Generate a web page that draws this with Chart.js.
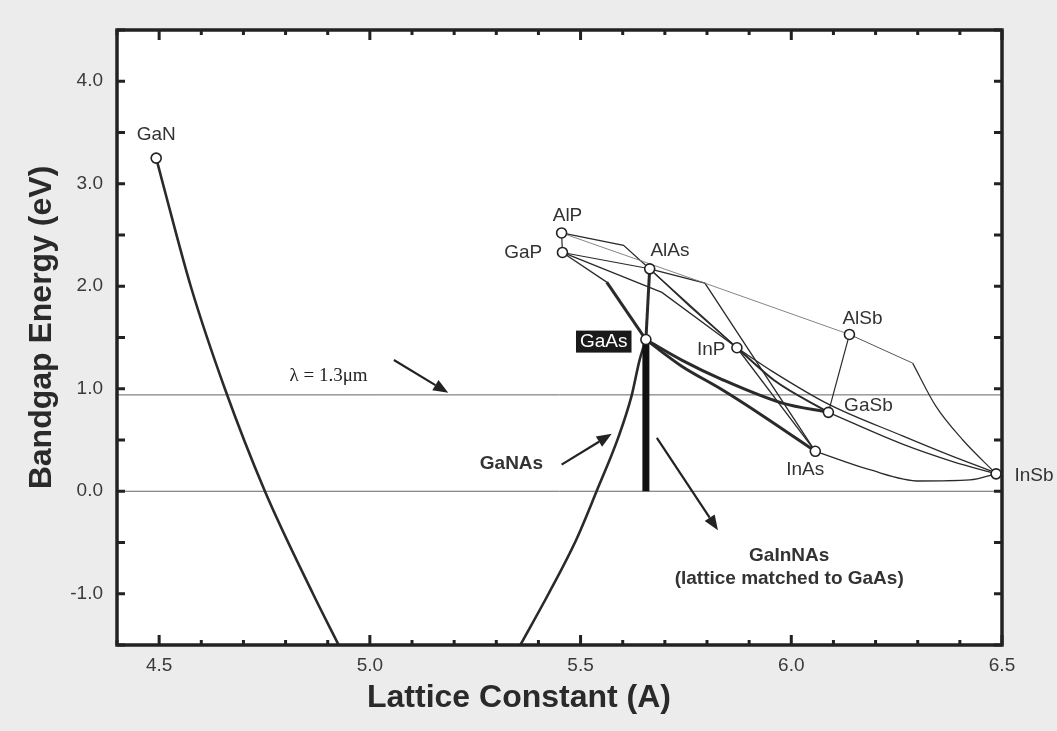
<!DOCTYPE html>
<html>
<head>
<meta charset="utf-8">
<title>Bandgap vs Lattice Constant</title>
<script src="https://cdn.jsdelivr.net/npm/chart.js@4.4.1/dist/chart.umd.min.js"></script>
<style>
  html, body { margin: 0; padding: 0; background: #ececec; }
  #wrap { width: 1057px; height: 731px; }
</style>
</head>
<body>
<div id="wrap"><canvas id="bandgapChart" width="1057" height="731"></canvas></div>
<script>
// ---- data (lattice constant in A, bandgap in eV) ----
const binaryNames = ["GaN", "AlP", "GaP", "AlAs", "GaAs", "InP", "AlSb", "GaSb", "InAs", "InSb"];
const binaryA     = [4.493, 5.455, 5.457, 5.664, 5.655, 5.871, 6.138, 6.088, 6.057, 6.486];
const binaryEg    = [3.25, 2.52, 2.33, 2.17, 1.48, 1.40, 1.53, 0.77, 0.39, 0.17];

// where each binary's name sits
const labelA  = [4.493, 5.469, 5.364, 5.712, 5.555, 5.810, 6.169, 6.183, 6.033, 6.576];
const labelEg = [3.48, 2.69, 2.33, 2.35, 1.46, 1.38, 1.68, 0.83, 0.21, 0.15];

// GaNAs bowing curve (two branches, runs off the bottom of the plot)
const ganasLeftA   = [4.493, 4.509, 4.575, 4.656, 4.751, 4.865, 4.926];
const ganasLeftEg  = [3.25, 3.0, 2.0, 1.0, 0.0, -1.0, -1.5];
const ganasRightA  = [5.357, 5.424, 5.490, 5.538, 5.590, 5.621, 5.640, 5.655];
const ganasRightEg = [-1.5, -1.0, -0.47, 0.0, 0.53, 0.93, 1.28, 1.48];

// ternary alloy lines (thin)
const alpGapA = [5.455, 5.457],        alpGapEg = [2.52, 2.33];
const alpAlsbA = [5.455, 5.795, 6.138], alpAlsbEg = [2.52, 2.03, 1.53];
const alpInpA = [5.455, 5.602, 5.871], alpInpEg = [2.52, 2.40, 1.40];
const gapInpA = [5.457, 5.693, 5.871], gapInpEg = [2.33, 1.94, 1.40];
const gapAlasA = [5.457, 5.664],       gapAlasEg = [2.33, 2.17];
const gapGaasThinA = [5.457, 5.562],   gapGaasThinEg = [2.33, 2.04];
const alasInasA = [5.664, 5.795, 6.057], alasInasEg = [2.17, 2.03, 0.39];
const alasInpA = [5.664, 5.760, 5.871], alasInpEg = [2.17, 1.80, 1.40];
const inpInasA = [5.871, 6.057],       inpInasEg = [1.40, 0.39];
const inpGasbA = [5.871, 5.960, 6.088], inpGasbEg = [1.40, 1.08, 0.77];
const inpInsbA = [5.871, 5.955, 6.088, 6.264, 6.383, 6.486], inpInsbEg = [1.40, 1.17, 0.85, 0.54, 0.34, 0.18];
const gasbInsbA = [6.088, 6.264, 6.383, 6.486], gasbInsbEg = [0.77, 0.46, 0.29, 0.17];
const inasInsbA = [6.057, 6.186, 6.305, 6.424, 6.486], inasInsbEg = [0.39, 0.21, 0.10, 0.11, 0.17];
const alsbGasbA = [6.138, 6.088],      alsbGasbEg = [1.53, 0.77];
const alsbKinkA = [6.138, 6.288],      alsbKinkEg = [1.53, 1.25];
const kinkInsbA = [6.288, 6.343, 6.407, 6.486], kinkInsbEg = [1.25, 0.83, 0.50, 0.17];

// thick lines through GaAs
const gapGaasThickA = [5.562, 5.655],  gapGaasThickEg = [2.04, 1.48];
const alasGaasA = [5.664, 5.655],      alasGaasEg = [2.17, 1.48];
const gaasGasbA = [5.655, 5.740, 5.836, 5.979, 6.088], gaasGasbEg = [1.48, 1.28, 1.09, 0.86, 0.77];
const gaasInasA = [5.655, 5.693, 5.740, 5.836, 5.931, 6.057], gaasInasEg = [1.48, 1.36, 1.22, 0.99, 0.74, 0.39];

// GaInNAs lattice matched to GaAs
const gainnasA = [5.655, 5.655], gainnasEg = [0.0, 1.48];

// reference lines
const fullRangeA = [4.4, 6.5];
const lambdaEg = [0.94, 0.94];
const zeroEg = [0, 0];

// annotations
const arrowFromA = [5.057, 5.455, 5.681], arrowFromEg = [1.28, 0.26, 0.52];
const arrowToA   = [5.186, 5.574, 5.826], arrowToEg   = [0.96, 0.56, -0.38];

const pts = (xs, ys) => xs.map((x, i) => ({ x: x, y: ys[i] }));
const isHalf = v => Math.abs(v * 2 - Math.round(v * 2)) < 1e-6;
const isInt = v => Math.abs(v - Math.round(v)) < 1e-6;
const SANS = "'Liberation Sans', Arial, Helvetica, sans-serif";

function line(xs, ys, width, color, smooth) {
  return {
    data: pts(xs, ys), showLine: true, borderColor: color || "#2a2a2a",
    borderWidth: width, pointRadius: 0, pointHoverRadius: 0,
    cubicInterpolationMode: smooth ? "monotone" : "default",
    tension: 0, fill: false
  };
}

// white plot area on grey paper
const paperPlugin = {
  id: "paper",
  beforeDraw(chart) {
    const { ctx, chartArea: a } = chart;
    ctx.save();
    ctx.fillStyle = "#ececec";
    ctx.fillRect(0, 0, chart.width, chart.height);
    ctx.fillStyle = "#ffffff";
    ctx.fillRect(a.left, a.top, a.right - a.left, a.bottom - a.top);
    ctx.restore();
  }
};

// frame with inward ticks on all four sides
const framePlugin = {
  id: "frame",
  afterDatasetsDraw(chart) {
    const { ctx, chartArea: a, scales } = chart;
    ctx.save();
    ctx.strokeStyle = "#222";
    ctx.lineWidth = 3;
    ctx.beginPath();
    scales.x.ticks.forEach(t => {
      const px = scales.x.getPixelForValue(t.value);
      const len = isHalf(t.value) ? 10 : 5;
      ctx.moveTo(px, a.bottom); ctx.lineTo(px, a.bottom - len);
      ctx.moveTo(px, a.top); ctx.lineTo(px, a.top + len);
    });
    scales.y.ticks.forEach(t => {
      const py = scales.y.getPixelForValue(t.value);
      ctx.moveTo(a.left, py); ctx.lineTo(a.left + 8, py);
      ctx.moveTo(a.right, py); ctx.lineTo(a.right - 8, py);
    });
    ctx.stroke();
    ctx.lineWidth = 3.5;
    ctx.strokeRect(a.left, a.top, a.right - a.left, a.bottom - a.top);
    ctx.restore();
  }
};

function arrow(ctx, x1, y1, x2, y2) {
  const ang = Math.atan2(y2 - y1, x2 - x1);
  const head = 15, half = 6;
  ctx.beginPath();
  ctx.moveTo(x1, y1);
  ctx.lineTo(x2 - head * Math.cos(ang), y2 - head * Math.sin(ang));
  ctx.stroke();
  ctx.beginPath();
  ctx.moveTo(x2, y2);
  ctx.lineTo(x2 - head * Math.cos(ang) + half * Math.sin(ang), y2 - head * Math.sin(ang) - half * Math.cos(ang));
  ctx.lineTo(x2 - head * Math.cos(ang) - half * Math.sin(ang), y2 - head * Math.sin(ang) + half * Math.cos(ang));
  ctx.closePath();
  ctx.fill();
}

const notesPlugin = {
  id: "notes",
  afterDraw(chart) {
    const { ctx, scales: { x, y }, chartArea: a } = chart;
    ctx.save();
    ctx.textAlign = "center";
    ctx.textBaseline = "middle";

    // binary names
    ctx.font = "19px " + SANS;
    binaryNames.forEach((name, i) => {
      const px = x.getPixelForValue(labelA[i]), py = y.getPixelForValue(labelEg[i]);
      if (name === "GaAs") {
        const w = ctx.measureText(name).width + 8;
        ctx.fillStyle = "#1a1a1a";
        ctx.fillRect(px - w / 2, py - 11, w, 22);
        ctx.fillStyle = "#ffffff";
      } else {
        ctx.fillStyle = "#333";
      }
      ctx.fillText(name, px, py);
    });

    // arrows
    ctx.strokeStyle = "#222";
    ctx.fillStyle = "#222";
    ctx.lineWidth = 2.2;
    arrowFromA.forEach((v, i) => {
      arrow(ctx, x.getPixelForValue(v), y.getPixelForValue(arrowFromEg[i]),
        x.getPixelForValue(arrowToA[i]), y.getPixelForValue(arrowToEg[i]));
    });

    ctx.fillStyle = "#222";
    ctx.font = "19px 'Liberation Serif', 'Times New Roman', serif";
    ctx.fillText("\u03bb = 1.3\u03bcm", x.getPixelForValue(4.902), y.getPixelForValue(1.126));

    ctx.fillStyle = "#333";
    ctx.font = "bold 19px " + SANS;
    ctx.fillText("GaNAs", x.getPixelForValue(5.336), y.getPixelForValue(0.27));
    ctx.fillText("GaInNAs", x.getPixelForValue(5.995), y.getPixelForValue(-0.63));
    ctx.fillText("(lattice matched to GaAs)", x.getPixelForValue(5.995), y.getPixelForValue(-0.85));

    // axis titles
    ctx.fillStyle = "#2a2a2a";
    ctx.font = "bold 32px " + SANS;
    ctx.fillText("Lattice Constant (A)", 519, 698);
    ctx.translate(42, (a.top + a.bottom) / 2 - 10);
    ctx.rotate(-Math.PI / 2);
    ctx.fillText("Bandgap Energy (eV)", 0, 0);
    ctx.restore();
  }
};

new Chart(document.getElementById("bandgapChart").getContext("2d"), {
  type: "scatter",
  data: {
    datasets: [
      {
        data: pts(binaryA, binaryEg), pointRadius: 5, pointHoverRadius: 5,
        pointBackgroundColor: "#ffffff", pointBorderColor: "#222", pointBorderWidth: 1.6
      },
      line(gainnasA, gainnasEg, 7, "#111"),
      line(gapGaasThickA, gapGaasThickEg, 3),
      line(alasGaasA, alasGaasEg, 3),
      line(gaasGasbA, gaasGasbEg, 3, "#2a2a2a", true),
      line(gaasInasA, gaasInasEg, 3, "#2a2a2a", true),
      line(ganasLeftA, ganasLeftEg, 2.6, "#2a2a2a", true),
      line(ganasRightA, ganasRightEg, 2.6, "#2a2a2a", true),
      line(alpGapA, alpGapEg, 1.2),
      line(alpAlsbA, alpAlsbEg, 0.9, "#777"),
      line(alpInpA, alpInpEg, 1.3),
      line(gapInpA, gapInpEg, 1.3),
      line(gapAlasA, gapAlasEg, 1.1),
      line(gapGaasThinA, gapGaasThinEg, 1.3),
      line(alasInasA, alasInasEg, 1.3),
      line(alasInpA, alasInpEg, 1.2),
      line(inpInasA, inpInasEg, 1.3),
      line(inpGasbA, inpGasbEg, 2, "#2a2a2a", true),
      line(inpInsbA, inpInsbEg, 1.3, "#2a2a2a", true),
      line(gasbInsbA, gasbInsbEg, 1.3, "#2a2a2a", true),
      line(inasInsbA, inasInsbEg, 1.3, "#2a2a2a", true),
      line(alsbGasbA, alsbGasbEg, 1.2),
      line(alsbKinkA, alsbKinkEg, 1.0, "#555"),
      line(kinkInsbA, kinkInsbEg, 1.2, "#2a2a2a", true),
      line(fullRangeA, lambdaEg, 1, "#666"),
      line(fullRangeA, zeroEg, 1, "#666")
    ]
  },
  options: {
    responsive: false,
    animation: false,
    layout: { padding: { top: 30, right: 55, bottom: 0, left: 0 } },
    plugins: { legend: { display: false }, tooltip: { enabled: false } },
    scales: {
      x: {
        type: "linear", min: 4.4, max: 6.5,
        grid: { display: false, drawTicks: false },
        border: { display: false },
        ticks: {
          stepSize: 0.1, autoSkip: false, maxRotation: 0, padding: 9, color: "#3a3a3a",
          font: { family: SANS, size: 19 },
          callback: v => isHalf(v) ? v.toFixed(1) : ""
        },
        afterFit: s => { s.height = 86; }
      },
      y: {
        type: "linear", min: -1.5, max: 4.5,
        grid: { display: false, drawTicks: false },
        border: { display: false },
        ticks: {
          stepSize: 0.5, autoSkip: false, padding: 14, color: "#3a3a3a",
          font: { family: SANS, size: 19 },
          callback: v => isInt(v) ? v.toFixed(1) : ""
        },
        afterFit: s => { s.width = 117; }
      }
    }
  },
  plugins: [paperPlugin, framePlugin, notesPlugin]
});
</script>
</body>
</html>
